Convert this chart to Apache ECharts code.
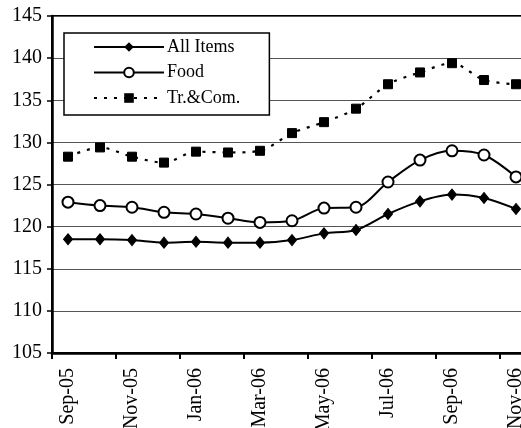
<!DOCTYPE html>
<html>
<head>
<meta charset="utf-8">
<script src="https://cdn.jsdelivr.net/npm/echarts@6/dist/echarts.min.js"></script>
<style>
html,body{margin:0;padding:0;background:#fff;}
#chart{width:521px;height:428px;}
</style>
</head>
<body>
<div id="chart"></div>
<script>
var categories = ['Sep-05','Oct-05','Nov-05','Dec-05','Jan-06','Feb-06','Mar-06','Apr-06','May-06','Jun-06','Jul-06','Aug-06','Sep-06','Oct-06','Nov-06'];
var allItems = [118.5,118.5,118.4,118.1,118.2,118.1,118.1,118.4,119.2,119.6,121.5,123.0,123.8,123.4,122.1];
var food = [122.9,122.5,122.3,121.7,121.5,121.0,120.5,120.7,122.2,122.3,125.3,127.9,129.0,128.5,125.9];
var trCom = [128.3,129.4,128.3,127.6,128.9,128.8,129.0,131.1,132.4,134.0,136.9,138.3,139.4,137.4,136.9];
var yTicks = {min:105, max:145, interval:5};

var FONT = 'Liberation Serif';
var chart = echarts.init(document.getElementById('chart'), null, {renderer:'canvas'});
chart.setOption({
  animation:false,
  backgroundColor:'#fff',
  textStyle:{fontFamily:FONT, color:'#000'},
  grid:{left:52, top:16, width:480, height:337, show:true, borderColor:'#000', borderWidth:2,
        containLabel:false, outerBoundsMode:'none'},
  legend:{
    left:64, top:33, orient:'vertical',
    itemWidth:70, itemHeight:12, itemGap:7.5,
    padding:[5,29,8,29],
    borderColor:'#000', borderWidth:1.5,
    backgroundColor:'#fff',
    align:'left',
    textStyle:{fontFamily:FONT, fontSize:18, color:'#000', padding:[0,0,0,-2]},
    data:['All Items','Food','Tr.&Com.']
  },
  xAxis:{
    type:'category', data:categories, boundaryGap:true,
    axisLine:{lineStyle:{color:'#000', width:2.5}},
    axisTick:{show:true, interval:1, length:6, inside:false, lineStyle:{color:'#000', width:2}},
    axisLabel:{interval:1, rotate:90, margin:15, fontFamily:FONT, fontSize:20, color:'#000'},
    splitLine:{show:false}
  },
  yAxis:{
    type:'value', min:yTicks.min, max:yTicks.max, interval:yTicks.interval,
    axisLine:{show:true, lineStyle:{color:'#000', width:2.5}},
    axisTick:{show:true, length:5, lineStyle:{color:'#000', width:1.5}},
    axisLabel:{margin:10, fontFamily:FONT, fontSize:20, color:'#000'},
    splitLine:{show:true, lineStyle:{color:'#555', width:1}}
  },
  series:[
    {name:'All Items', type:'line', data:allItems, smooth:0.3,
     symbol:'diamond', symbolSize:[9,11],
     lineStyle:{color:'#000', width:2},
     itemStyle:{color:'#000', borderColor:'#000'}},
    {name:'Food', type:'line', data:food, smooth:0.3,
     symbol:'circle', symbolSize:11,
     lineStyle:{color:'#000', width:2},
     itemStyle:{color:'#fff', borderColor:'#000', borderWidth:2}},
    {name:'Tr.&Com.', type:'line', data:trCom, smooth:0.3,
     symbol:'rect', symbolSize:9,
     lineStyle:{color:'#000', width:2.2, type:[3,7]},
     itemStyle:{color:'#000', borderColor:'#000'}}
  ]
});
</script>
</body>
</html>
